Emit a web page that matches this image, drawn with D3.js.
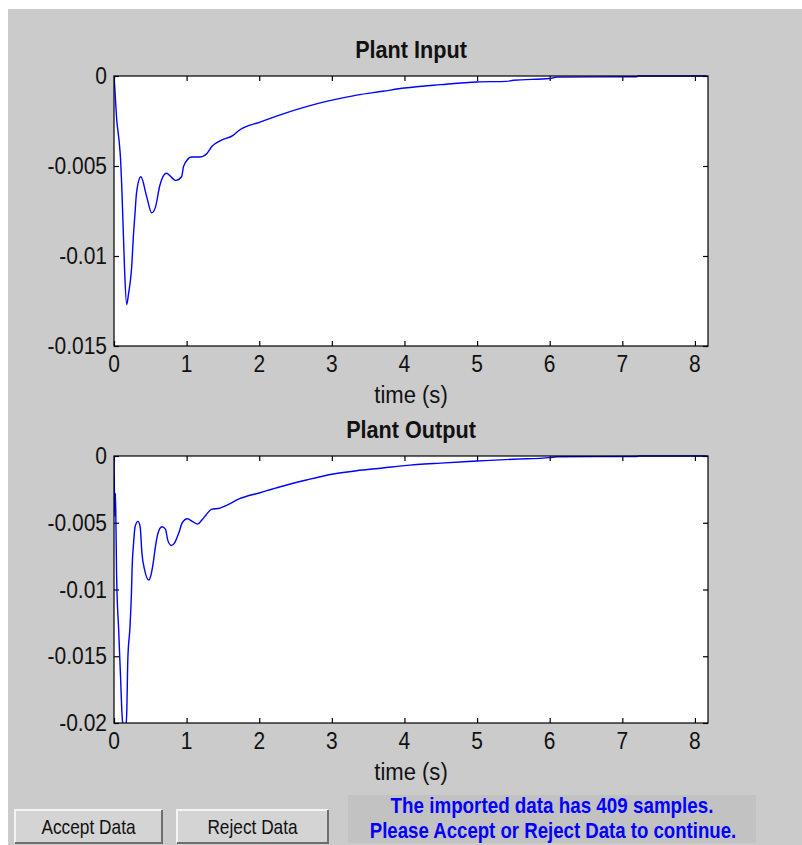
<!DOCTYPE html>
<html>
<head>
<meta charset="utf-8">
<script src="https://cdn.jsdelivr.net/npm/d3@7"></script>
<style>
  html, body { margin: 0; padding: 0; background: #ffffff; }
  svg text { font-family: "Liberation Sans", Arial, sans-serif; }
</style>
</head>
<body>
<svg id="fig" width="802" height="845"></svg>
<script>
// time stamps (s) and values
var timeIn = [0, 0.01, 0.037, 0.07, 0.09, 0.11, 0.13, 0.147, 0.175, 0.2, 0.24, 0.27, 0.29, 0.31, 0.37,
  0.45, 0.52, 0.57, 0.63, 0.72, 0.85, 0.93, 0.96, 1.07, 1.18, 1.28, 1.35, 1.46, 1.64, 1.73,
  2.01, 2.33, 2.65, 3.02, 3.34, 3.7, 4.0, 4.5, 5.0, 5.4, 5.5, 6.0, 6.1, 7.2, 7.22, 8.16];
var inputVals = [0, -0.0006, -0.0024, -0.0036, -0.0046, -0.0065, -0.0089, -0.0109, -0.0127, -0.0121, -0.0108,
  -0.0087, -0.0076, -0.0065, -0.0056, -0.0067, -0.0076, -0.0073, -0.0061, -0.0054, -0.0058, -0.0056,
  -0.005, -0.0045, -0.0045, -0.0043, -0.0039, -0.0036, -0.0033, -0.003, -0.00256, -0.0021, -0.0017,
  -0.00133, -0.00106, -0.00085, -0.00067, -0.00048, -0.00033, -0.00030, -0.00024, -0.00014, -0.00006,
  -0.00004, 0, 0];

var timeOut = [0, 0.006, 0.012, 0.02, 0.028, 0.036, 0.064, 0.092, 0.11, 0.13, 0.155, 0.175, 0.19,
  0.22, 0.24, 0.25, 0.27, 0.29, 0.33, 0.36, 0.385, 0.42, 0.48, 0.505, 0.54, 0.57, 0.605, 0.66, 0.71,
  0.74, 0.79, 0.835, 0.89, 0.94, 1.01, 1.08, 1.15, 1.21, 1.27, 1.34, 1.46, 1.55, 1.73, 2.01, 2.29,
  2.65, 3.02, 3.34, 3.7, 4.0, 4.5, 5.0, 5.5, 6.0, 6.1, 7.2, 7.22, 8.16];
var outputVals = [0, -0.0027, -0.0045, -0.0028, -0.0056, -0.009, -0.013, -0.0168, -0.0193, -0.0204,
  -0.0206, -0.0193, -0.0153, -0.0128, -0.0103, -0.0083, -0.0065, -0.0053, -0.0049, -0.0053, -0.0073,
  -0.0085, -0.0093, -0.009, -0.008, -0.0068, -0.0058, -0.0053, -0.0055, -0.0063, -0.0067, -0.0065,
  -0.0058, -0.005, -0.0047, -0.0049, -0.0051, -0.0048, -0.0044, -0.004, -0.0039, -0.0037, -0.0032,
  -0.00275, -0.0023, -0.0018, -0.00135, -0.0011, -0.0009, -0.00072, -0.00053, -0.00038, -0.00024,
  -0.00012, -0.00006, -0.00004, 0, 0];

var xTicks = [0, 1, 2, 3, 4, 5, 6, 7, 8];
var yTicksIn = [0, -0.005, -0.01, -0.015];
var yTicksOut = [0, -0.005, -0.01, -0.015, -0.02];
var xMax = 8.18;

var svg = d3.select("#fig");

// text is a bit taller than plain Liberation Sans in the original screenshot
var txt = function(g, x, y, str, size, anchor, weight, fill, sx) {
  return g.append("text")
    .attr("transform", "translate(" + x + "," + y + ") scale(" + (sx || 1) + ",1.12)")
    .attr("text-anchor", anchor)
    .attr("font-size", size + "px")
    .attr("font-weight", weight || "normal")
    .attr("fill", fill || "#111")
    .text(str);
};

// gray figure background
svg.append("rect")
  .attr("x", 8).attr("y", 9)
  .attr("width", 802 - 8).attr("height", 845 - 9)
  .attr("fill", "#cbcbcb");

var drawPanel = function(cfg) {
  var x = d3.scaleLinear().domain([0, xMax]).range([cfg.left, cfg.right]);
  var y = d3.scaleLinear().domain([cfg.ymin, 0]).range([cfg.bottom, cfg.top]);

  var g = svg.append("g");

  g.append("rect")
    .attr("x", cfg.left).attr("y", cfg.top)
    .attr("width", cfg.right - cfg.left).attr("height", cfg.bottom - cfg.top)
    .attr("fill", "#ffffff");

  var clipId = "clip" + cfg.id;
  svg.append("clipPath").attr("id", clipId)
    .append("rect")
    .attr("x", cfg.left).attr("y", cfg.top - 1)
    .attr("width", cfg.right - cfg.left).attr("height", cfg.bottom - cfg.top + 1);

  // axes: ticks drawn inward, like matlab
  g.append("g")
    .attr("transform", "translate(0," + cfg.bottom + ")")
    .call(d3.axisTop(x).tickValues(xTicks).tickSize(5).tickFormat(""))
    .call(a => a.select(".domain").remove());
  g.append("g")
    .attr("transform", "translate(0," + cfg.top + ")")
    .call(d3.axisBottom(x).tickValues(xTicks).tickSize(5).tickFormat(""))
    .call(a => a.select(".domain").remove());
  g.append("g")
    .attr("transform", "translate(" + cfg.left + ",0)")
    .call(d3.axisRight(y).tickValues(cfg.yTicks).tickSize(5).tickFormat(""))
    .call(a => a.select(".domain").remove());
  g.append("g")
    .attr("transform", "translate(" + cfg.right + ",0)")
    .call(d3.axisLeft(y).tickValues(cfg.yTicks).tickSize(5).tickFormat(""))
    .call(a => a.select(".domain").remove());
  g.selectAll(".tick line").attr("stroke", "#000").attr("stroke-width", 1.2);

  // line
  var line = d3.line().x((d, i) => x(cfg.t[i])).y(d => y(d)).curve(d3.curveMonotoneX);
  g.append("path")
    .datum(cfg.v)
    .attr("clip-path", "url(#" + clipId + ")")
    .attr("d", line)
    .attr("fill", "none")
    .attr("stroke", "#0000ff")
    .attr("stroke-width", 1.4);

  // box
  g.append("rect")
    .attr("x", cfg.left).attr("y", cfg.top)
    .attr("width", cfg.right - cfg.left).attr("height", cfg.bottom - cfg.top)
    .attr("fill", "none").attr("stroke", "#000").attr("stroke-width", 1.2);

  // tick labels
  xTicks.forEach(function(d) {
    txt(g, x(d), cfg.bottom + 26, d, 21, "middle");
  });
  cfg.yTicks.forEach(function(d) {
    txt(g, cfg.left - 7, y(d) + 8, d === 0 ? "0" : String(d), 21, "end");
  });

  txt(g, (cfg.left + cfg.right) / 2, cfg.bottom + 57, "time (s)", 21, "middle", "normal", "#111", 1.05);
  txt(g, (cfg.left + cfg.right) / 2, cfg.top - 18, cfg.title, 21, "middle", "bold", "#111", 1.03);
};

drawPanel({id: 1, title: "Plant Input", left: 114, right: 708, top: 76, bottom: 346,
  ymin: -0.015, yTicks: yTicksIn, t: timeIn, v: inputVals});
drawPanel({id: 2, title: "Plant Output", left: 114, right: 708, top: 456, bottom: 723,
  ymin: -0.02, yTicks: yTicksOut, t: timeOut, v: outputVals});

// buttons
var button = function(bx, by, bw, bh, label) {
  var b = svg.append("g");
  b.append("rect").attr("x", bx).attr("y", by).attr("width", bw).attr("height", bh)
    .attr("fill", "#d4d4d4");
  b.append("path").attr("d", "M" + bx + "," + (by + bh) + "V" + by + "H" + (bx + bw))
    .attr("fill", "none").attr("stroke", "#f4f4f4").attr("stroke-width", 2);
  b.append("path").attr("d", "M" + bx + "," + (by + bh) + "H" + (bx + bw) + "V" + by)
    .attr("fill", "none").attr("stroke", "#6e6e6e").attr("stroke-width", 2);
  txt(b, bx + bw / 2, by + bh / 2 + 7, label, 18, "middle", "normal", "#111", 0.96);
};
button(15, 810, 147, 33, "Accept Data");
button(177, 810, 151, 33, "Reject Data");

// status box
svg.append("rect").attr("x", 348).attr("y", 795).attr("width", 408).attr("height", 48)
  .attr("fill", "#c2c2c2");
txt(svg, 552, 813, "The imported data has 409 samples.", 19, "middle", "bold", "#0000ff", 0.99);
txt(svg, 553, 838, "Please Accept or Reject Data to continue.", 19, "middle", "bold", "#0000ff", 0.98);
</script>
</body>
</html>
